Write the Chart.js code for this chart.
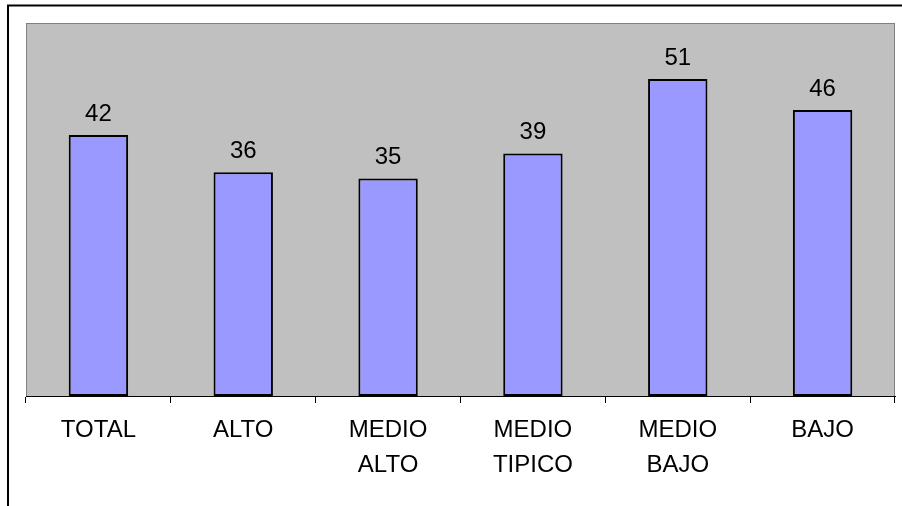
<!DOCTYPE html>
<html>
<head>
<meta charset="utf-8">
<script src="https://cdn.jsdelivr.net/npm/chart.js@4/dist/chart.umd.min.js"></script>
<style>
  html, body { margin: 0; padding: 0; background: #ffffff; }
  #wrap { width: 902px; height: 506px; position: relative; }
</style>
</head>
<body>
<div id="wrap"><canvas id="c" width="902" height="506"></canvas></div>
<script>
// Categories (multi-line labels) and values
const categories = [
  ['TOTAL'],
  ['ALTO'],
  ['MEDIO', 'ALTO'],
  ['MEDIO', 'TIPICO'],
  ['MEDIO', 'BAJO'],
  ['BAJO']
];
const values = [42, 36, 35, 39, 51, 46];
const yMin = 0;
const yMax = 60;

const FONT = '"Liberation Sans", Arial, sans-serif';

// Gray plot background with a thin border, plus the outer frame lines
const backdrop = {
  id: 'backdrop',
  beforeDraw(chart) {
    const { ctx, chartArea: a } = chart;
    ctx.save();
    ctx.fillStyle = '#ffffff';
    ctx.fillRect(0, 0, chart.width, chart.height);
    ctx.fillStyle = '#C0C0C0';
    ctx.fillRect(a.left, a.top, a.right - a.left, a.bottom - a.top);
    ctx.strokeStyle = '#808080';
    ctx.lineWidth = 1;
    ctx.strokeRect(a.left + 0.5, a.top + 0.5, a.right - a.left - 1, a.bottom - a.top);
    // outer frame
    ctx.strokeStyle = '#000000';
    ctx.lineWidth = 2;
    ctx.beginPath();
    ctx.moveTo(8, chart.height);
    ctx.lineTo(8, 5.5);
    ctx.lineTo(chart.width, 5.5);
    ctx.stroke();
    ctx.restore();
  }
};

// Value labels above each bar
const valueLabels = {
  id: 'valueLabels',
  afterDatasetsDraw(chart) {
    const { ctx } = chart;
    const meta = chart.getDatasetMeta(0);
    ctx.save();
    ctx.font = '24px ' + FONT;
    ctx.fillStyle = '#000000';
    ctx.textAlign = 'center';
    ctx.textBaseline = 'middle';
    meta.data.forEach((bar, i) => {
      ctx.fillText(String(values[i]), bar.x, bar.y - 21);
    });
    ctx.restore();
  }
};

new Chart(document.getElementById('c'), {
  type: 'bar',
  data: {
    labels: categories,
    datasets: [{
      data: values,
      backgroundColor: '#9999FF',
      borderColor: '#000000',
      borderWidth: 2,
      borderSkipped: false,
      barPercentage: 0.41,
      categoryPercentage: 1.0
    }]
  },
  options: {
    responsive: false,
    animation: false,
    devicePixelRatio: 1,
    layout: { padding: { left: 26, right: 7, top: 23, bottom: 0 } },
    plugins: {
      legend: { display: false },
      tooltip: { enabled: false }
    },
    scales: {
      x: {
        grid: {
          offset: true,
          drawOnChartArea: false,
          drawTicks: true,
          tickLength: 7,
          color: '#000000',
          lineWidth: 1
        },
        border: { display: true, color: '#000000', width: 1 },
        ticks: {
          color: '#000000',
          font: { family: FONT, size: 24, lineHeight: 1.45 },
          padding: 10,
          maxRotation: 0,
          autoSkip: false
        },
        afterFit(scale) { scale.height = 110; }
      },
      y: {
        display: false,
        min: yMin,
        max: yMax
      }
    }
  },
  plugins: [backdrop, valueLabels]
});
</script>
</body>
</html>
